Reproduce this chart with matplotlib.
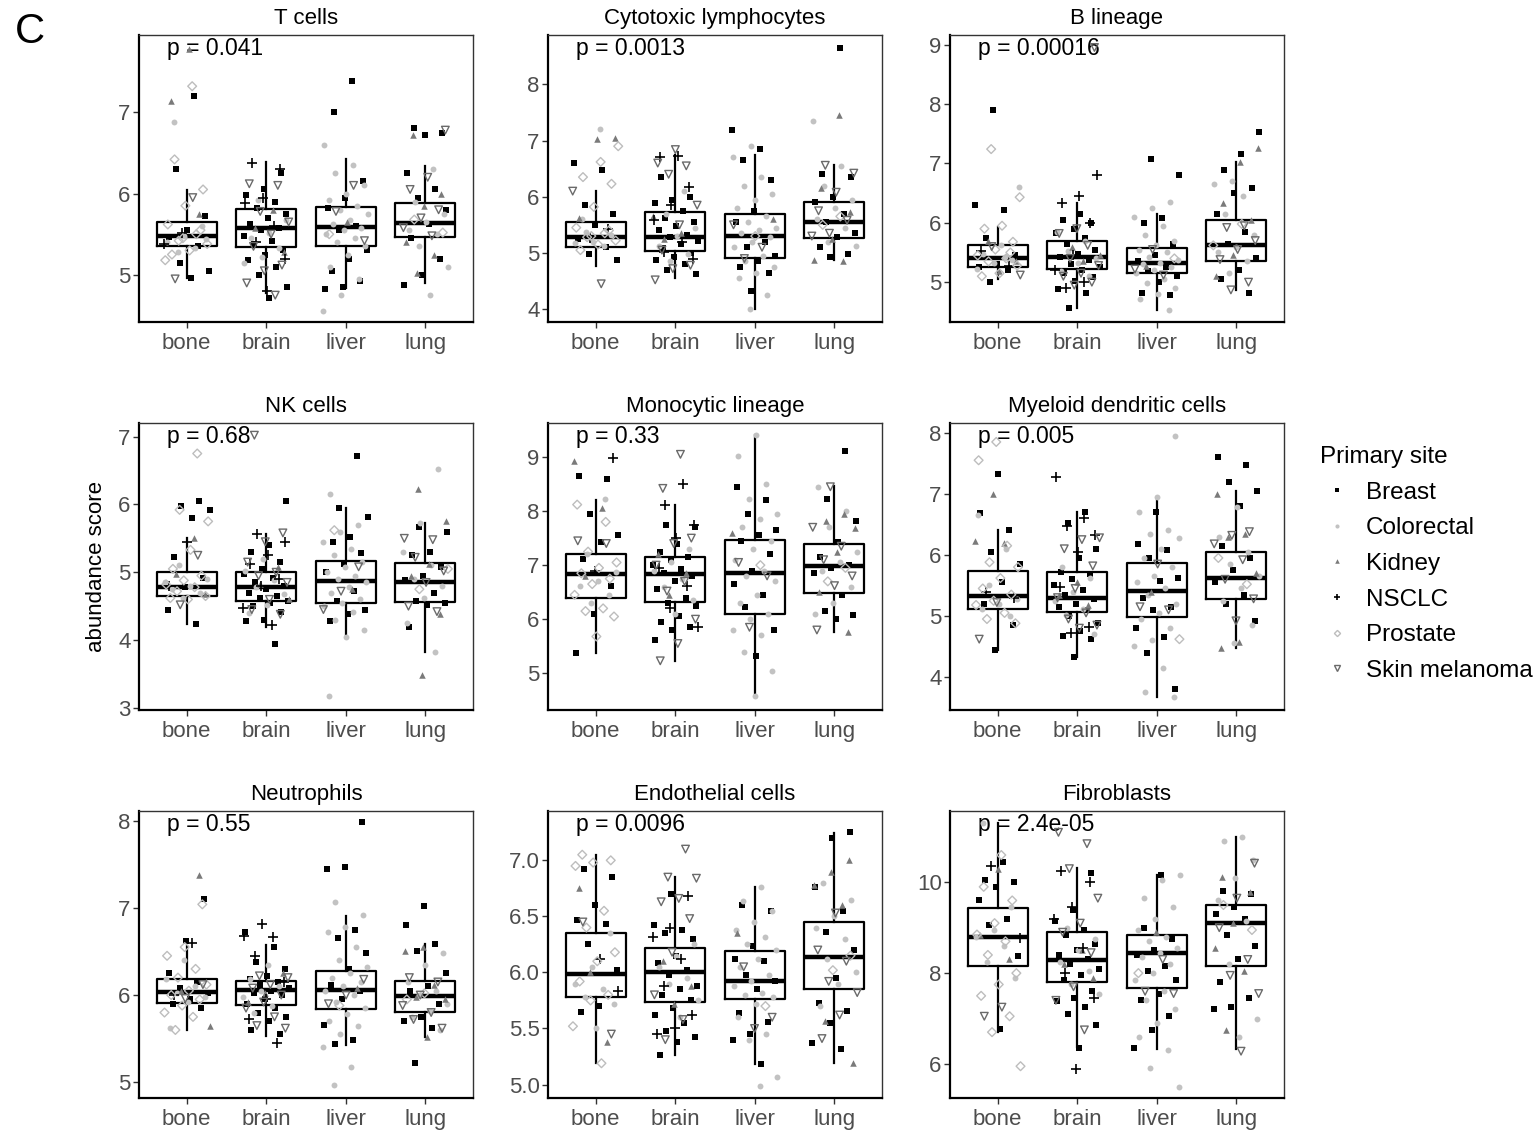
import numpy as np
import matplotlib.pyplot as plt
from matplotlib.lines import Line2D

plt.rcParams['font.family'] = ['Liberation Sans', 'DejaVu Sans']

groups = ['bone', 'brain', 'liver', 'lung']
site_names = ['Breast', 'Colorectal', 'Kidney', 'NSCLC', 'Prostate', 'Skin melanoma']

# primary site of each sample, per metastatic location (same samples in every panel)
bone_sites = ['Prostate'] * 13 + ['Breast'] * 9 + ['Colorectal'] * 7 + ['Kidney'] * 3 + ['NSCLC'] * 2 + ['Skin melanoma'] * 2
brain_sites = ['Breast'] * 20 + ['NSCLC'] * 8 + ['Skin melanoma'] * 10 + ['Colorectal'] * 7 + ['Kidney'] * 3
liver_sites = ['Colorectal'] * 22 + ['Breast'] * 13 + ['Skin melanoma'] * 3 + ['Kidney'] + ['Prostate']
lung_sites = ['Breast'] * 12 + ['Colorectal'] * 9 + ['Kidney'] * 6 + ['Skin melanoma'] * 7 + ['Prostate'] * 2

titles = ['T cells', 'Cytotoxic lymphocytes', 'B lineage',
          'NK cells', 'Monocytic lineage', 'Myeloid dendritic cells',
          'Neutrophils', 'Endothelial cells', 'Fibroblasts']
p_labels = ['p = 0.041', 'p = 0.0013', 'p = 0.00016',
            'p = 0.68', 'p = 0.33', 'p = 0.005',
            'p = 0.55', 'p = 0.0096', 'p = 2.4e-05']

# box stats per group: (lower whisker, q1, median, q3, upper whisker)
t_cells_box = [(4.96, 5.36, 5.48, 5.65, 6.04), (4.78, 5.34, 5.58, 5.81, 6.39),
               (4.84, 5.36, 5.59, 5.83, 6.42), (4.90, 5.46, 5.64, 5.88, 6.34)]
cyto_box = [(4.77, 5.11, 5.29, 5.555, 6.10), (4.55, 5.04, 5.29, 5.73, 6.75),
            (4.01, 4.91, 5.31, 5.69, 6.74), (4.88, 5.26, 5.55, 5.91, 6.56)]
blin_box = [(5.06, 5.26, 5.41, 5.62, 5.93), (4.57, 5.22, 5.43, 5.70, 6.33),
            (4.54, 5.15, 5.33, 5.58, 6.14), (4.87, 5.35, 5.62, 6.04, 7.03)]
nk_box = [(4.24, 4.65, 4.79, 5.00, 5.51), (4.20, 4.58, 4.79, 5.00, 5.56),
          (4.04, 4.54, 4.87, 5.16, 5.94), (3.83, 4.56, 4.85, 5.14, 5.72)]
mono_box = [(5.38, 6.40, 6.83, 7.21, 8.20), (5.23, 6.31, 6.83, 7.16, 8.12),
            (4.57, 6.09, 6.85, 7.47, 9.40), (5.76, 6.48, 6.99, 7.40, 8.46)]
mdc_box = [(4.44, 5.12, 5.32, 5.73, 6.41), (4.33, 5.06, 5.29, 5.72, 6.70),
           (3.68, 4.98, 5.41, 5.87, 6.94), (4.47, 5.28, 5.62, 6.04, 7.05)]
neut_box = [(5.60, 5.91, 6.03, 6.18, 6.56), (5.53, 5.89, 6.06, 6.16, 6.57),
            (5.43, 5.84, 6.06, 6.28, 6.91), (5.52, 5.81, 5.99, 6.16, 6.58)]
endo_box = [(5.19, 5.78, 5.99, 6.35, 7.05), (5.26, 5.74, 6.00, 6.22, 6.85),
            (5.18, 5.76, 5.92, 6.19, 6.76), (5.19, 5.85, 6.14, 6.45, 7.24)]
fibro_box = [(6.71, 8.16, 8.80, 9.44, 11.30), (6.37, 7.80, 8.29, 8.91, 10.31),
             (6.32, 7.68, 8.44, 8.84, 10.16), (6.32, 8.16, 9.10, 9.50, 11.00)]

# sample scores (order follows the *_sites lists)
t_cells_pts = [
    [7.32, 6.42, 6.05, 5.85, 5.62, 5.50, 5.42, 5.38, 5.30, 5.25, 5.55, 5.45, 5.18,
     7.20, 6.30, 5.72, 5.55, 5.47, 5.35, 5.15, 5.05, 4.96,
     6.88, 5.60, 5.48, 5.40, 5.33, 5.28, 5.44, 7.78, 7.14, 5.75, 5.52, 5.38, 5.95, 4.95],
    [6.25, 6.05, 5.98, 5.90, 5.82, 5.75, 5.70, 5.62, 5.58, 5.55, 5.48, 5.42, 5.38, 5.30, 5.25, 5.18, 5.10, 5.00, 4.85, 4.72,
     6.38, 6.30, 5.95, 5.88, 5.60, 5.40, 5.20, 4.80,
     6.12, 6.10, 5.78, 5.65, 5.50, 5.35, 5.12, 5.05, 4.90, 4.75,
     5.92, 5.68, 5.52, 5.45, 5.33, 5.22, 5.15, 5.80, 5.58, 5.28],
    [6.60, 6.35, 6.25, 6.10, 6.00, 5.92, 5.85, 5.80, 5.75, 5.68, 5.62, 5.58, 5.55, 5.50, 5.45, 5.40, 5.35, 5.25, 5.10, 4.95, 4.75, 4.55,
     7.38, 7.00, 6.15, 5.95, 5.82, 5.60, 5.55, 5.30, 5.20, 5.05, 4.92, 4.85, 4.82,
     6.10, 5.78, 5.42, 5.65, 5.50],
    [6.80, 6.75, 6.72, 6.25, 6.05, 5.95, 5.80, 5.62, 5.45, 5.20, 5.00, 4.87,
     6.30, 5.90, 5.75, 5.65, 5.55, 5.50, 5.35, 5.10, 4.75,
     6.72, 6.00, 5.85, 5.40, 5.25, 5.02,
     6.78, 6.20, 6.05, 5.80, 5.70, 5.58, 5.48, 5.68, 5.52],
]
cyto_pts = [
    [6.90, 6.62, 6.35, 6.23, 5.82, 5.45, 5.35, 5.28, 5.22, 5.15, 5.05, 5.40, 5.30,
     6.60, 6.48, 5.85, 5.70, 5.50, 5.25, 5.10, 4.98, 4.87,
     7.20, 5.60, 5.32, 5.20, 5.18, 5.12, 5.38, 7.05, 7.02, 5.62, 5.42, 5.26, 6.10, 4.45],
    [6.35, 6.00, 5.95, 5.88, 5.75, 5.62, 5.55, 5.48, 5.40, 5.32, 5.28, 5.22, 5.15, 5.08, 5.00, 4.92, 4.88, 4.80, 4.70, 4.62,
     6.72, 6.70, 6.18, 5.85, 5.58, 5.20, 5.02, 4.90,
     6.84, 6.60, 6.55, 6.40, 5.85, 5.50, 5.05, 4.78, 4.72, 4.52,
     6.10, 5.70, 5.45, 5.30, 5.12, 4.98, 4.85, 5.65, 5.35, 5.25],
    [6.90, 6.70, 6.35, 6.20, 6.05, 5.95, 5.80, 5.65, 5.55, 5.45, 5.40, 5.35, 5.28, 5.20, 5.10, 4.95, 4.85, 4.75, 4.65, 4.55, 4.25, 4.01,
     7.18, 6.85, 6.65, 6.30, 5.75, 5.55, 5.20, 5.10, 4.95, 4.85, 4.75, 4.65, 4.32,
     5.50, 5.10, 4.90, 5.60, 5.30],
    [8.65, 6.40, 6.35, 6.00, 5.90, 5.70, 5.55, 5.35, 5.28, 5.10, 4.98, 4.92,
     7.35, 6.55, 6.20, 5.95, 5.80, 5.60, 5.45, 5.20, 5.12,
     7.45, 6.15, 5.72, 5.25, 4.88, 4.85,
     6.56, 6.42, 6.08, 5.75, 5.58, 5.35, 5.30, 5.65, 5.50],
]
blin_pts = [
    [7.24, 6.43, 5.95, 5.90, 5.68, 5.55, 5.45, 5.40, 5.35, 5.28, 5.15, 5.10, 5.50,
     7.90, 6.30, 6.22, 5.75, 5.45, 5.30, 5.25, 5.20, 5.00,
     6.60, 5.62, 5.48, 5.38, 5.32, 5.22, 5.42, 5.70, 5.36, 5.18, 5.52, 5.28, 5.60, 5.12],
    [6.15, 6.05, 6.00, 5.90, 5.82, 5.75, 5.65, 5.55, 5.48, 5.42, 5.38, 5.30, 5.25, 5.20, 5.15, 5.08, 5.02, 4.88, 4.82, 4.57,
     6.80, 6.45, 6.33, 6.00, 5.45, 5.20, 5.00, 4.90,
     8.95, 5.90, 5.82, 5.62, 5.40, 5.28, 5.15, 5.10, 5.00, 4.95,
     5.85, 5.70, 5.52, 5.40, 5.32, 5.18, 5.10, 5.60, 5.45, 5.35],
    [6.35, 6.25, 6.10, 5.95, 5.80, 5.70, 5.62, 5.55, 5.50, 5.42, 5.38, 5.33, 5.30, 5.25, 5.20, 5.15, 5.05, 4.98, 4.90, 4.80, 4.72, 4.54,
     7.07, 6.80, 6.08, 6.00, 5.65, 5.45, 5.35, 5.25, 5.18, 5.10, 5.00, 4.82, 4.78,
     5.55, 5.22, 5.12, 5.28, 5.40],
    [7.52, 7.15, 6.88, 6.58, 6.50, 6.15, 5.85, 5.65, 5.40, 5.20, 5.05, 4.81,
     6.70, 6.65, 6.45, 6.15, 5.80, 5.60, 5.50, 5.35, 5.15,
     7.25, 7.03, 6.33, 6.05, 5.45, 5.10,
     5.95, 5.92, 5.70, 5.55, 5.38, 5.00, 4.87, 5.62, 5.98],
]
nk_pts = [
    [6.75, 5.92, 5.75, 5.33, 5.05, 4.95, 4.88, 4.82, 4.78, 4.72, 4.65, 4.60, 4.62,
     6.05, 5.97, 5.92, 5.80, 5.22, 4.92, 4.78, 4.45, 4.24,
     5.10, 4.90, 4.80, 4.75, 4.70, 4.62, 4.85, 5.51, 4.98, 4.68, 5.45, 4.80, 5.25, 4.52],
    [6.05, 5.40, 5.30, 5.15, 5.05, 4.98, 4.92, 4.85, 4.80, 4.75, 4.70, 4.65, 4.62, 4.58, 4.55, 4.50, 4.42, 4.30, 4.28, 3.95,
     5.56, 5.45, 5.25, 5.12, 4.90, 4.80, 4.48, 4.22,
     7.02, 5.58, 5.45, 5.15, 5.00, 4.95, 4.85, 4.60, 4.45, 4.38,
     5.20, 5.02, 4.88, 4.78, 4.68, 4.52, 4.40, 5.08, 4.82, 4.60],
    [6.15, 5.70, 5.60, 5.45, 5.35, 5.25, 5.15, 5.08, 5.00, 4.95, 4.90, 4.85, 4.78, 4.70, 4.60, 4.55, 4.50, 4.42, 4.30, 4.15, 4.05, 3.17,
     6.72, 5.95, 5.82, 5.52, 5.45, 5.28, 5.12, 5.00, 4.72, 4.58, 4.45, 4.38, 4.28,
     5.08, 4.72, 4.45, 4.75, 5.62],
    [5.66, 5.60, 5.30, 5.25, 5.08, 4.95, 4.88, 4.70, 4.58, 4.55, 4.52, 4.20,
     6.52, 5.72, 5.30, 5.10, 4.90, 4.80, 4.62, 4.25, 3.83,
     6.22, 5.75, 5.12, 4.95, 4.38, 3.48,
     5.50, 5.48, 5.22, 5.02, 4.85, 4.50, 4.42, 4.75, 5.05],
]
mono_pts = [
    [8.12, 7.80, 7.25, 7.05, 6.95, 6.85, 6.75, 6.65, 6.45, 6.20, 6.15, 6.05, 5.68,
     8.65, 8.60, 7.95, 7.55, 7.42, 7.12, 6.62, 6.10, 5.38,
     8.22, 7.20, 6.88, 6.70, 6.62, 6.45, 6.30, 8.93, 8.05, 6.80, 8.98, 6.90, 7.45, 7.40],
    [7.75, 7.70, 7.40, 7.25, 7.15, 7.10, 7.00, 6.92, 6.85, 6.80, 6.70, 6.55, 6.40, 6.30, 6.25, 6.05, 5.95, 5.85, 5.80, 5.62,
     8.50, 8.12, 7.75, 7.50, 6.95, 6.62, 6.20, 5.85,
     9.05, 8.42, 7.50, 7.40, 7.00, 6.70, 6.52, 6.00, 5.55, 5.23,
     7.30, 7.05, 6.90, 6.75, 6.60, 6.35, 6.10, 7.20, 6.85, 6.45],
    [9.40, 9.02, 8.50, 8.22, 7.95, 7.85, 7.70, 7.45, 7.30, 7.10, 6.90, 6.80, 6.70, 6.45, 6.30, 6.10, 6.00, 5.80, 5.70, 5.40, 5.05, 4.57,
     8.45, 8.20, 7.95, 7.65, 7.55, 7.45, 7.20, 6.90, 6.65, 6.45, 6.22, 5.80, 5.32,
     7.05, 6.80, 5.85, 7.60, 7.00],
    [9.12, 8.22, 7.82, 7.42, 7.15, 7.00, 6.95, 6.85, 6.45, 6.15, 6.08, 6.00,
     8.45, 8.00, 7.70, 7.25, 7.05, 6.90, 6.60, 6.30, 6.10,
     7.95, 7.82, 7.68, 7.25, 6.50, 5.76,
     8.45, 7.70, 7.35, 7.10, 6.80, 6.62, 5.80, 6.95, 6.70],
]
mdc_pts = [
    [7.85, 7.55, 6.15, 5.88, 5.80, 5.62, 5.45, 5.35, 5.25, 5.18, 5.05, 4.95, 4.88,
     7.33, 6.68, 6.41, 6.05, 5.85, 5.55, 5.20, 4.85, 4.44,
     6.65, 6.10, 5.50, 5.28, 5.20, 5.12, 5.00, 7.00, 6.22, 6.20, 5.40, 5.30, 5.22, 4.62],
    [6.70, 6.52, 6.10, 5.95, 5.72, 5.68, 5.60, 5.50, 5.42, 5.35, 5.28, 5.20, 5.15, 5.10, 5.00, 4.88, 4.75, 4.68, 4.62, 4.32,
     7.28, 6.60, 6.48, 6.32, 6.05, 5.48, 4.82, 4.72,
     6.28, 6.25, 6.10, 5.82, 5.45, 5.30, 5.05, 4.95, 4.85, 4.80,
     5.80, 5.62, 5.40, 5.25, 5.12, 5.02, 4.70, 5.55, 5.35, 5.18],
    [7.95, 6.95, 6.70, 6.40, 6.35, 6.28, 6.10, 5.95, 5.80, 5.65, 5.55, 5.45, 5.35, 5.20, 5.05, 4.95, 4.80, 4.60, 4.50, 4.15, 3.75, 3.68,
     6.70, 6.18, 6.08, 5.95, 5.62, 5.58, 5.30, 5.15, 5.10, 4.80, 4.65, 4.40, 3.80,
     5.85, 5.15, 5.10, 5.40, 4.62],
    [7.60, 7.48, 7.20, 7.05, 6.80, 6.15, 5.95, 5.75, 5.55, 5.35, 5.20, 4.92,
     6.78, 6.30, 6.05, 5.85, 5.65, 5.45, 5.25, 4.85, 4.55,
     7.00, 6.35, 6.30, 5.70, 4.58, 4.47,
     6.38, 6.32, 6.18, 5.92, 5.60, 5.28, 4.92, 5.95, 5.52],
]
neut_pts = [
    [7.04, 6.55, 6.45, 6.30, 6.20, 6.12, 6.05, 6.00, 5.95, 5.88, 5.80, 5.75, 5.60,
     7.10, 6.62, 6.25, 6.15, 6.08, 6.02, 5.95, 5.90, 5.85,
     6.40, 6.18, 6.10, 6.02, 5.98, 5.92, 5.62, 7.38, 6.05, 5.65, 6.60, 6.00, 6.12, 5.96],
    [6.72, 6.55, 6.38, 6.30, 6.22, 6.18, 6.15, 6.12, 6.08, 6.05, 6.02, 6.00, 5.95, 5.90, 5.85, 5.80, 5.75, 5.70, 5.60, 5.55,
     6.82, 6.68, 6.66, 6.45, 6.15, 5.95, 5.72, 5.45,
     6.22, 6.20, 6.12, 6.08, 6.00, 5.92, 5.85, 5.75, 5.65, 5.62,
     6.35, 6.18, 6.10, 6.05, 5.98, 5.88, 5.80, 6.25, 6.02, 5.92],
    [7.07, 6.92, 6.78, 6.72, 6.55, 6.40, 6.32, 6.25, 6.20, 6.15, 6.10, 6.05, 6.00, 5.92, 5.85, 5.78, 5.70, 5.65, 5.55, 5.40, 5.18, 4.97,
     7.98, 7.47, 7.45, 6.75, 6.65, 6.48, 6.30, 6.12, 6.05, 5.95, 5.66, 5.48, 5.44,
     6.18, 6.00, 5.90, 6.08, 5.88],
    [7.02, 6.80, 6.58, 6.50, 6.25, 6.10, 6.05, 5.90, 5.75, 5.70, 5.62, 5.22,
     6.48, 6.35, 6.15, 6.05, 6.00, 5.90, 5.82, 5.75, 5.60,
     6.55, 6.50, 6.12, 5.98, 5.95, 5.52,
     6.20, 6.15, 6.00, 5.88, 5.80, 5.72, 5.62, 6.02, 5.95],
]
endo_pts = [
    [7.05, 7.00, 6.98, 6.95, 6.55, 6.40, 6.18, 6.10, 5.92, 5.80, 5.75, 5.52, 5.19,
     6.92, 6.85, 6.60, 6.47, 6.43, 6.25, 6.02, 5.70, 5.65,
     6.35, 6.05, 5.90, 5.85, 5.78, 5.72, 5.50, 6.75, 5.38, 6.00, 5.83, 6.12, 6.45, 5.45],
    [6.70, 6.42, 6.38, 6.35, 6.30, 6.15, 6.08, 6.02, 5.98, 5.88, 5.85, 5.80, 5.75, 5.68, 5.62, 5.55, 5.48, 5.42, 5.38, 5.26,
     6.68, 6.40, 6.32, 6.12, 5.88, 5.62, 5.50, 5.45,
     7.10, 6.85, 6.84, 6.66, 6.63, 6.48, 6.18, 5.80, 5.58, 5.40,
     6.25, 6.15, 6.05, 5.95, 5.90, 5.75, 5.60, 6.10, 5.88, 5.72],
    [6.76, 6.64, 6.55, 6.45, 6.38, 6.32, 6.25, 6.20, 6.12, 6.05, 5.98, 5.92, 5.88, 5.82, 5.80, 5.78, 5.72, 5.60, 5.45, 5.40, 5.07, 4.99,
     6.60, 6.55, 6.24, 6.12, 6.10, 5.98, 5.92, 5.85, 5.64, 5.56, 5.45, 5.40, 5.18,
     6.05, 5.60, 5.50, 6.35, 5.70],
    [7.25, 7.20, 6.76, 6.55, 6.36, 6.20, 5.95, 5.73, 5.66, 5.55, 5.37, 5.32,
     6.80, 6.65, 6.50, 6.40, 6.30, 6.12, 6.00, 5.90, 5.70,
     7.00, 6.90, 6.78, 6.60, 5.57, 5.19,
     6.53, 6.20, 6.10, 5.92, 5.82, 5.62, 5.41, 6.15, 6.02],
]
fibro_pts = [
    [10.60, 9.90, 9.60, 9.10, 8.85, 8.70, 8.40, 8.00, 7.75, 7.50, 7.05, 6.70, 5.95,
     10.45, 10.05, 10.00, 9.90, 9.60, 9.20, 9.05, 8.38, 6.78,
     11.30, 9.45, 8.95, 8.80, 8.60, 8.25, 7.90, 10.30, 8.85, 8.30, 10.35, 8.78, 7.25, 7.05],
    [10.20, 9.40, 9.15, 8.95, 8.85, 8.65, 8.50, 8.40, 8.30, 8.20, 8.10, 7.95, 7.85, 7.60, 7.45, 7.38, 7.25, 7.10, 6.85, 6.35,
     10.25, 10.00, 9.45, 9.20, 8.55, 8.00, 7.45, 5.88,
     11.10, 10.85, 10.30, 9.65, 9.10, 8.90, 8.45, 7.70, 7.40, 6.75,
     9.00, 8.75, 8.50, 8.25, 8.05, 7.75, 7.55, 8.50, 8.20, 7.90],
    [10.16, 10.05, 9.65, 9.45, 9.20, 8.95, 8.80, 8.70, 8.55, 8.45, 8.35, 8.20, 8.00, 7.85, 7.60, 7.40, 7.20, 6.90, 6.60, 6.30, 5.92, 5.50,
     10.15, 9.00, 8.75, 8.50, 8.40, 8.15, 8.05, 7.85, 7.55, 7.40, 7.05, 6.75, 6.35,
     8.30, 7.60, 7.55, 8.90, 8.00],
    [9.80, 9.75, 9.45, 9.30, 9.20, 8.85, 8.60, 8.30, 7.80, 7.45, 7.25, 7.22,
     11.00, 10.90, 10.50, 10.10, 9.60, 9.15, 8.20, 7.00, 6.60,
     10.12, 9.78, 9.10, 8.55, 8.05, 6.75,
     10.42, 9.65, 9.00, 8.30, 7.95, 7.55, 6.28, 9.50, 8.95],
]

y_limits = [(4.42, 7.95), (3.77, 8.88), (4.33, 9.16),
            (2.97, 7.20), (4.32, 9.63), (3.46, 8.16),
            (4.82, 8.11), (4.88, 7.44), (5.25, 11.57)]
y_ticks = [[5, 6, 7], [4, 5, 6, 7, 8], [5, 6, 7, 8, 9],
           [3, 4, 5, 6, 7], [5, 6, 7, 8, 9], [4, 5, 6, 7, 8],
           [5, 6, 7, 8], [5.0, 5.5, 6.0, 6.5, 7.0], [6, 8, 10]]

boxes = [t_cells_box, cyto_box, blin_box, nk_box, mono_box, mdc_box, neut_box, endo_box, fibro_box]
points = [t_cells_pts, cyto_pts, blin_pts, nk_pts, mono_pts, mdc_pts, neut_pts, endo_pts, fibro_pts]
group_sites = [bone_sites, brain_sites, liver_sites, lung_sites]

site_style = {
    'Breast': dict(marker='s', s=14, c='black', linewidths=0),
    'Colorectal': dict(marker='o', s=18, c='#c2c2c2', linewidths=0),
    'Kidney': dict(marker='^', s=22, c='#7a7a7a', linewidths=0),
    'NSCLC': dict(marker='+', s=45, c='black', linewidths=1.2),
    'Prostate': dict(marker='D', s=20, facecolors='none', edgecolors='#bdbdbd', linewidths=1.0),
    'Skin melanoma': dict(marker='v', s=30, facecolors='none', edgecolors='#6a6a6a', linewidths=1.0),
}

fig = plt.figure(figsize=(15.4, 11.3), dpi=100)
W, H = 1540, 1130
col_left = [139, 548, 950]
row_top = [35, 423, 811]
aw, ah = 334, 287

for k in range(9):
    r, c = divmod(k, 3)
    ax = fig.add_axes([col_left[c] / W, 1 - (row_top[r] + ah) / H, aw / W, ah / H])

    stats = [dict(whislo=b[0], q1=b[1], med=b[2], q3=b[3], whishi=b[4], fliers=[])
             for b in boxes[k]]
    ax.bxp(stats, positions=[1, 2, 3, 4], widths=0.75, showcaps=False, showfliers=False,
           boxprops=dict(color='black', linewidth=1.6),
           whiskerprops=dict(color='black', linewidth=1.6),
           medianprops=dict(color='black', linewidth=3.2), zorder=2)

    for g in range(4):
        vals = np.array(points[k][g])
        sites = np.array(group_sites[g])
        n = len(vals)
        # deterministic horizontal jitter
        jit = ((np.arange(n) + 1) * 0.6180339887 + 0.37 * k + 0.21 * g) % 1.0
        xs = (g + 1) + (jit - 0.5) * 0.58
        for s in site_names:
            m = sites == s
            if m.any():
                ax.scatter(xs[m], vals[m], zorder=3, **site_style[s])

    ax.set_xlim(0.4, 4.6)
    ax.set_ylim(*y_limits[k])
    ax.set_xticks([1, 2, 3, 4])
    ax.set_xticklabels(groups)
    ax.set_yticks(y_ticks[k])
    if k == 7:
        ax.set_yticklabels(['%.1f' % t for t in y_ticks[k]])
    ax.tick_params(axis='both', length=4, width=1, color='#333333',
                   labelcolor='#4d4d4d', labelsize=16, pad=2)
    ax.tick_params(axis='x', pad=4)
    for side in ['left', 'bottom']:
        ax.spines[side].set_linewidth(1.6)
        ax.spines[side].set_color('black')
    for side in ['top', 'right']:
        ax.spines[side].set_linewidth(1.0)
        ax.spines[side].set_color('#333333')
    ax.set_title(titles[k], fontsize=16, pad=8)
    ax.text(0.085, 0.952, p_labels[k], transform=ax.transAxes, fontsize=16.5,
            ha='left', va='center', zorder=1)
    if k == 3:
        ax.set_ylabel('abundance score', fontsize=16)
        ax.yaxis.set_label_coords(-0.095, 0.5)

fig.text(15 / W, 1 - 32 / H, 'C', fontsize=30, ha='left', va='center')

handles = []
for s in site_names:
    st = site_style[s]
    filled = 'c' in st
    col = st['c'] if filled else st['edgecolors']
    handles.append(Line2D([], [], linestyle='none', marker=st['marker'],
                          markersize=np.sqrt(st['s']) * 0.7,
                          markerfacecolor=col if filled else 'none',
                          markeredgecolor=col,
                          markeredgewidth=st['linewidths'] if st['linewidths'] else 0.0))
fig.legend(handles, site_names, title='Primary site', loc='upper left',
           bbox_to_anchor=(1320 / W, 1 - 446 / H), frameon=False, fontsize=17.5,
           title_fontsize=17.5, alignment='left', borderpad=0, borderaxespad=0,
           handlelength=1.4, handletextpad=0.5, labelspacing=0.56)

fig.savefig('out.png', dpi=100)
